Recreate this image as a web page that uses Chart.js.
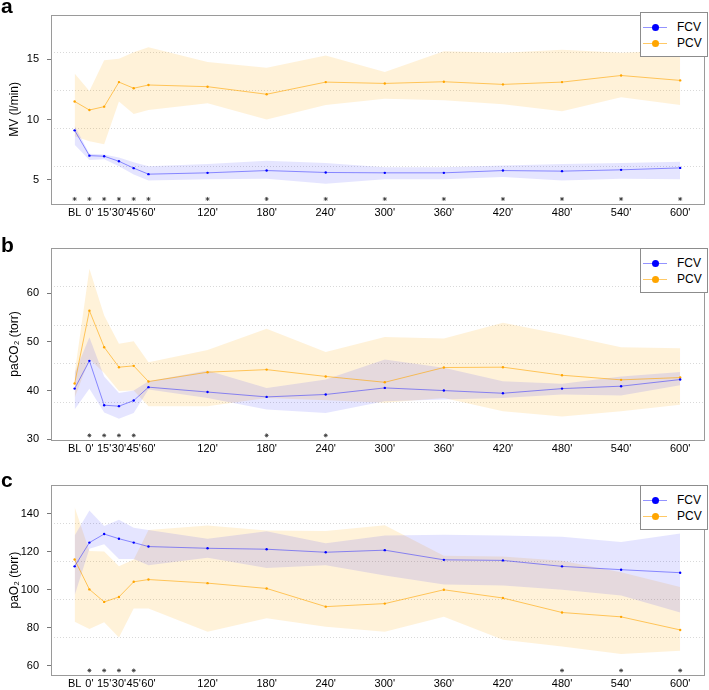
<!DOCTYPE html>
<html>
<head>
<meta charset="utf-8">
<script src="https://cdn.jsdelivr.net/npm/chart.js@4.4.1/dist/chart.umd.min.js"></script>
<style>
  body { margin: 0; background: #fff; font-family: "Liberation Sans", Arial, sans-serif; }
  #wrap { position: relative; width: 709px; height: 690px; }
  .panel { position: absolute; left: 0; width: 709px; height: 230px; }
  .letter { position: absolute; left: 1px; font-size: 21px; font-weight: bold; line-height: 21px; color: #000; }
  .legend { position: absolute; left: 640px; width: 66px; height: 43px; border: 1px solid #8c8c8c; background: #fff; font-size: 12px; }
  .legend .row { position: absolute; left: 0; height: 14px; width: 66px; }
  .legend .ln { position: absolute; left: 2px; top: 7px; width: 24px; height: 1px; }
  .legend .dot { position: absolute; left: 11px; top: 4px; width: 7px; height: 7px; border-radius: 50%; }
  .legend .tx { position: absolute; left: 36px; top: 0; line-height: 14px; }
</style>
</head>
<body>
<div id="wrap">
  <div class="panel" style="top:0px"><canvas id="chartA"></canvas></div>
  <div class="panel" style="top:230px"><canvas id="chartB"></canvas></div>
  <div class="panel" style="top:460px"><canvas id="chartC"></canvas></div>
  <div class="letter" style="top:-5px">a</div>
  <div class="letter" style="top:234px">b</div>
  <div class="letter" style="top:469px">c</div>
</div>
<script>
// Time points (minutes, BL plotted at -15) and their labels
const times = [-15, 0, 15, 30, 45, 60, 120, 180, 240, 300, 360, 420, 480, 540, 600];
const timeLabels = ['BL', "0'", "15'", "30'", "45'", "60'", "120'", "180'", "240'", "300'", "360'", "420'", "480'", "540'", "600'"];

// (a) minute ventilation, l/min
const mvFcv   = [9.1, 7.0, 6.95, 6.53, 5.96, 5.46, 5.57, 5.76, 5.6, 5.57, 5.57, 5.76, 5.71, 5.82, 5.98];
const mvFcvHi = [9.5, 7.15, 7.1, 6.85, 6.44, 6.11, 6.31, 6.58, 6.39, 6.04, 6.04, 6.17, 6.31, 6.39, 6.5];
const mvFcvLo = [7.9, 6.64, 6.7, 6.11, 5.43, 4.94, 5.03, 5.08, 4.67, 5.03, 5.03, 5.22, 4.94, 5.08, 5.03];
const mvPcv   = [11.5, 10.79, 11.07, 13.11, 12.6, 12.87, 12.73, 12.1, 13.11, 13.0, 13.14, 12.92, 13.11, 13.66, 13.25];
const mvPcvHi = [13.82, 12.38, 14.92, 15.05, 15.6, 16.0, 14.78, 14.31, 15.33, 13.96, 15.68, 15.54, 15.79, 15.54, 15.73];
const mvPcvLo = [8.6, 8.2, 7.95, 11.5, 10.46, 10.79, 11.36, 10.0, 11.2, 11.72, 11.6, 11.28, 10.68, 11.86, 11.2];
const mvStars = [-15, 0, 15, 30, 45, 60, 120, 180, 240, 300, 360, 420, 480, 540, 600];
const mvTicks = [5, 10, 15];

// (b) paCO2, torr
const pcFcv   = [40.4, 46.1, 37.0, 36.8, 37.95, 40.7, 39.7, 38.7, 39.2, 40.55, 40.0, 39.45, 40.4, 40.9, 42.26];
const pcFcvHi = [43.6, 50.95, 42.9, 39.5, 40.0, 41.9, 44.1, 40.55, 42.26, 46.4, 44.7, 41.9, 41.4, 42.9, 43.8];
const pcFcvLo = [36.1, 40.35, 35.5, 34.2, 35.4, 40.2, 38.5, 36.1, 35.4, 37.8, 38.15, 38.5, 39.2, 39.0, 41.1];
const pcPcv   = [41.44, 56.4, 48.9, 44.8, 45.07, 41.85, 43.77, 44.3, 42.9, 41.7, 44.73, 44.8, 43.15, 42.2, 42.67];
const pcPcvHi = [43.5, 65.0, 55.4, 49.6, 50.1, 45.8, 48.3, 52.7, 47.9, 51.0, 50.7, 53.9, 51.5, 48.9, 48.7];
const pcPcvLo = [38.5, 46.5, 43.6, 39.9, 40.0, 36.8, 36.8, 38.5, 38.0, 37.5, 38.5, 35.75, 34.7, 35.75, 37.1];
const pcStars = [0, 15, 30, 45, 180, 240];
const pcTicks = [30, 40, 50, 60];

// (c) paO2, torr
const poFcv   = [112.35, 124.9, 129.4, 126.95, 124.9, 122.8, 121.9, 121.4, 119.8, 120.9, 115.8, 115.5, 112.35, 110.6, 109.0];
const poFcvHi = [128.7, 141.9, 133.6, 137.0, 132.7, 131.5, 126.95, 130.95, 124.5, 128.7, 129.05, 128.7, 128.0, 125.2, 129.7];
const poFcvLo = [97.0, 121.7, 124.0, 116.2, 116.2, 113.0, 116.9, 111.5, 113.0, 107.5, 102.8, 102.3, 100.0, 97.0, 88.0];
const poPcv   = [116.0, 100.2, 93.6, 96.2, 104.2, 105.4, 103.5, 100.7, 91.1, 92.7, 100.0, 95.65, 88.0, 85.7, 78.8];
const poPcvHi = [143.7, 120.5, 120.2, 112.35, 116.0, 131.5, 133.9, 131.3, 131.0, 134.1, 117.9, 117.6, 115.3, 109.2, 101.4];
const poPcvLo = [83.1, 79.3, 82.8, 74.8, 90.1, 90.1, 77.9, 84.9, 80.5, 77.9, 85.7, 73.6, 70.1, 66.1, 67.8];
const poStars = [0, 15, 30, 45, 480, 540, 600];
const poTicks = [60, 80, 100, 120, 140];

const blue = '#0000ff';
const orange = '#ffa500';
const blueLine = 'rgba(40,40,255,0.5)';
const orangeLine = 'rgba(255,165,0,0.6)';
const fontFam = '"Liberation Sans", Arial, sans-serif';

function pts(vals) {
    return vals.map((v, i) => ({ x: times[i], y: v }));
}

// dotted background grid (5 equal divisions) + grey box round the plot
const framePlugin = {
    id: 'frame',
    beforeDatasetsDraw(chart) {
        const { ctx, chartArea: a } = chart;
        ctx.save();
        ctx.strokeStyle = '#d9d9d9';
        ctx.lineWidth = 1;
        ctx.setLineDash([1, 2]);
        for (let k = 1; k < 5; k++) {
            const y = Math.round(a.top + k * (a.bottom - a.top) / 5) + 0.5;
            ctx.beginPath();
            ctx.moveTo(a.left, y);
            ctx.lineTo(a.right, y);
            ctx.stroke();
        }
        ctx.restore();
    },
    afterDraw(chart) {
        const { ctx, chartArea: a } = chart;
        ctx.save();
        ctx.strokeStyle = '#9a9a9a';
        ctx.lineWidth = 1;
        ctx.strokeRect(Math.round(a.left) + 0.5, Math.round(a.top) + 0.5,
                       Math.round(a.right - a.left), Math.round(a.bottom - a.top));
        ctx.restore();
    }
};

function band(hi, lo, color) {
    return [
        { data: pts(hi), borderWidth: 0, pointRadius: 0, backgroundColor: color, fill: '+1', order: 5 },
        { data: pts(lo), borderWidth: 0, pointRadius: 0, backgroundColor: 'transparent', fill: false, order: 5 }
    ];
}

function series(vals, line, dot) {
    return { data: pts(vals), borderColor: line, borderWidth: 1, backgroundColor: dot,
             pointRadius: 1.2, pointBorderWidth: 0, pointBackgroundColor: dot, fill: false, order: 1 };
}

function makePanel(id, p) {
    const datasets = [
        ...band(p.fcvHi, p.fcvLo, 'rgba(0,0,255,0.1)'),
        ...band(p.pcvHi, p.pcvLo, 'rgba(255,165,0,0.15)'),
        series(p.fcv, blueLine, blue),
        series(p.pcv, orangeLine, orange),
        { data: p.stars.map(t => ({ x: t, y: p.starLevel })), showLine: false, pointStyle: 'star',
          pointRadius: 2, borderColor: '#333', borderWidth: 0.8, order: 0 }
    ];

    return new Chart(document.getElementById(id), {
        type: 'line',
        data: { datasets },
        options: {
            responsive: true,
            maintainAspectRatio: false,
            animation: false,
            layout: { padding: { top: p.top, right: 2, left: 0, bottom: 0 } },
            plugins: { legend: { display: false }, tooltip: { enabled: false } },
            elements: { line: { tension: 0 } },
            scales: {
                x: {
                    type: 'linear', min: -39, max: 624.4,
                    afterBuildTicks: axis => { axis.ticks = times.map(v => ({ value: v })); },
                    afterFit: axis => { axis.height = p.xh; },
                    grid: { display: false, drawTicks: false },
                    border: { display: false },
                    ticks: {
                        autoSkip: false, maxRotation: 0, padding: 2, color: '#000',
                        font: { family: fontFam, size: 11 },
                        callback: v => timeLabels[times.indexOf(v)]
                    }
                },
                y: {
                    min: p.ymin, max: p.ymax,
                    afterBuildTicks: axis => { axis.ticks = p.yticks.map(v => ({ value: v })); },
                    afterFit: axis => { axis.width = 51; },
                    grid: { drawOnChartArea: false, tickLength: 4, color: '#777' },
                    border: { display: false },
                    ticks: { padding: 8, color: '#000', font: { family: fontFam, size: 11 } },
                    title: { display: true, text: p.title, color: '#000',
                             font: { family: fontFam, size: 12 }, padding: { top: 7, bottom: 0 } }
                }
            }
        },
        plugins: [framePlugin]
    });
}

makePanel('chartA', { fcv: mvFcv, fcvHi: mvFcvHi, fcvLo: mvFcvLo, pcv: mvPcv, pcvHi: mvPcvHi, pcvLo: mvPcvLo,
    stars: mvStars, starLevel: 3.4, yticks: mvTicks, ymin: 2.98, ymax: 18.72, title: 'MV (l/min)', top: 12, xh: 26 });
makePanel('chartB', { fcv: pcFcv, fcvHi: pcFcvHi, fcvLo: pcFcvLo, pcv: pcPcv, pcvHi: pcPcvHi, pcvLo: pcPcvLo,
    stars: pcStars, starLevel: 30.8, yticks: pcTicks, ymin: 29.86, ymax: 69.25, title: 'paCO₂ (torr)', top: 18, xh: 20 });
makePanel('chartC', { fcv: poFcv, fcvHi: poFcvHi, fcvLo: poFcvLo, pcv: poPcv, pcvHi: poPcvHi, pcvLo: poPcvLo,
    stars: poStars, starLevel: 57.4, yticks: poTicks, ymin: 54.8, ymax: 155.3, title: 'paO₂ (torr)', top: 25, xh: 13 });

// legend boxes, one per panel
const legendTops = [12, 248, 485];
const wrap = document.getElementById('wrap');
for (const top of legendTops) {
    const box = document.createElement('div');
    box.className = 'legend';
    box.style.top = top + 'px';
    box.innerHTML =
        '<div class="row" style="top:7px"><div class="ln" style="background:' + blueLine + '"></div>' +
        '<div class="dot" style="background:' + blue + '"></div><div class="tx">FCV</div></div>' +
        '<div class="row" style="top:23px"><div class="ln" style="background:' + orangeLine + '"></div>' +
        '<div class="dot" style="background:' + orange + '"></div><div class="tx">PCV</div></div>';
    wrap.appendChild(box);
}
</script>
</body>
</html>
